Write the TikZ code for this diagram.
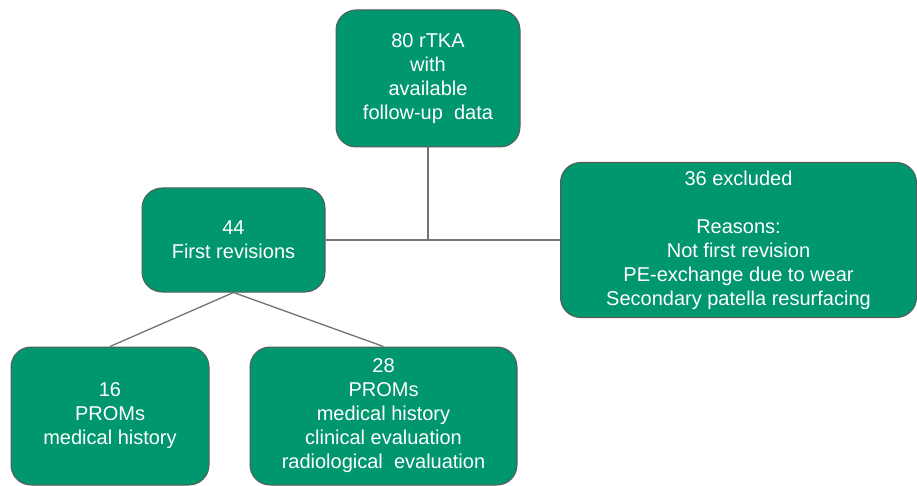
\documentclass[tikz,border=0pt]{standalone}
\usepackage{fontspec}
\setmainfont{Liberation Sans}
\usetikzlibrary{
    positioning,
    calc
    }

\definecolor{boxgreen}{RGB}{0,150,110}
\definecolor{edgegray}{RGB}{90,90,90}

\begin{document}
\begin{tikzpicture}[x=1pt, y=-1pt]
\tikzset{stage/.style =
        {
            rectangle,
            rounded corners=20pt,
            draw=edgegray,
            line width=1pt,
            fill=boxgreen,
            text=white,
            align=center,
            inner sep=0pt,
            font=\fontsize{20}{24}\selectfont
        }
}

\tikzset{link/.style =
        {
            line width=1.3pt,
            draw=edgegray!85
        }
}

		\useasboundingbox (0,0) rectangle (917,486);

		\node[stage, minimum width=184pt, minimum height=137pt] at (428,78.5) (total)
			{80 rTKA\\with\\available\\follow-up\ \ data};
		\node[stage, minimum width=183pt, minimum height=104pt] at (233.5,240) (first)
			{44\\First revisions};
		\node[stage, minimum width=356pt, minimum height=155pt] at (738.5,240) (excluded)
			{36 excluded\\[24pt]Reasons:\\Not first revision\\PE-exchange due to wear\\Secondary patella resurfacing};
		\node[stage, minimum width=198pt, minimum height=138pt] at (110,416) (partial)
			{16\\PROMs\\medical history};
		\node[stage, minimum width=267pt, minimum height=138pt] at (383.5,416) (full)
			{28\\PROMs\\medical history\\clinical evaluation\\radiological\ \ evaluation};

		\coordinate (split) at (total.south |- first.east);

		\draw [link] (total) -- (split);
		\draw [link] (first) -- (excluded);

		\foreach \finish in {partial, full}
			{
				\draw [link] (first.south) -- (\finish.north);
			}

	\end{tikzpicture}
\end{document}
